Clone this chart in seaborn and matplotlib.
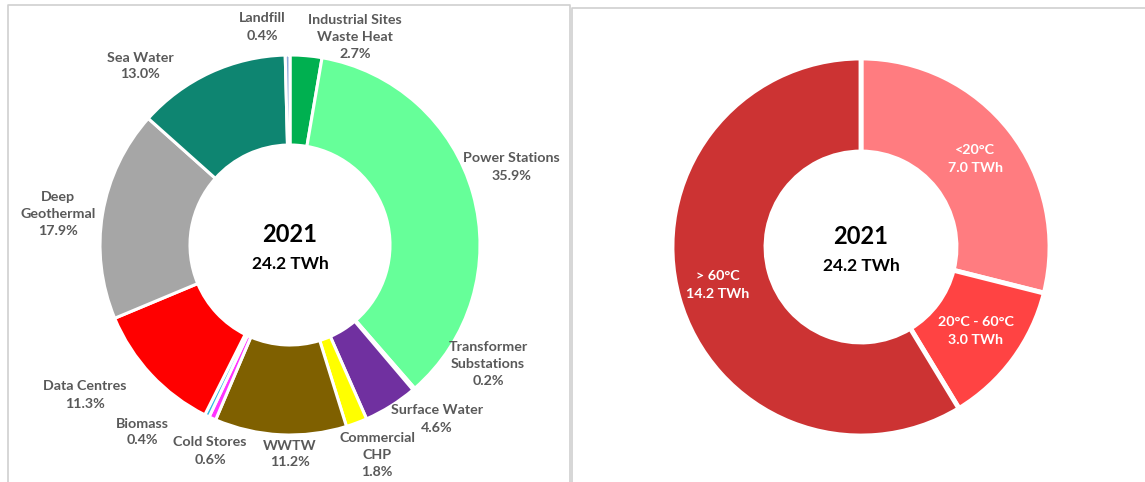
import matplotlib.pyplot as plt
import seaborn as sns

# Data
sources = ['Industrial Sites\nWaste Heat', 'Power Stations', 'Transformer\nSubstations',
           'Surface Water', 'Commercial\nCHP', 'WWTW', 'Cold Stores', 'Biomass',
           'Data Centres', 'Deep\nGeothermal', 'Sea Water', 'Landfill']
source_share = [2.7, 35.9, 0.2, 4.6, 1.8, 11.2, 0.6, 0.4, 11.3, 17.9, 13.0, 0.4]
source_colors = ['#00b050', '#66ff99', '#d9d9d9', '#7030a0', '#ffff00', '#7f6000',
                 '#ff33ff', '#33b5e5', '#ff0000', '#a6a6a6', '#0e8571', '#8faadc']

temp_bands = ['<20°C', '20°C - 60°C', '> 60°C']
temp_twh = [7.0, 3.0, 14.2]
temp_colors = ['#ff7c80', '#ff4343', '#cc3333']

year = '2021'
total = '24.2 TWh'

# label positions in pixels (x, y from top)
source_label_pos = [(355, 37), (511, 167), (488, 364), (437, 419), (377, 455), (290, 454),
                    (210, 451), (142, 432), (85, 395), (58, 214), (140, 66), (262, 27)]
temp_label_pos = [(975, 159), (976, 331), (718, 285)]

sns.set_theme(style="white")
plt.rcParams['font.family'] = ['Lato', 'DejaVu Sans']

W, H = 1145, 482
fig = plt.figure(figsize=(W / 100, H / 100), dpi=100)
ax = fig.add_axes([0, 0, 1, 1])
ax.set_xlim(0, W)
ax.set_ylim(0, H)
ax.set_aspect('equal')
ax.axis('off')

# left donut
ax.pie(source_share, colors=source_colors, startangle=90, counterclock=False,
       center=(290, H - 245), radius=190,
       wedgeprops=dict(width=90, edgecolor='white', linewidth=2.2))
for lab, val, (x, y) in zip(sources, source_share, source_label_pos):
    ax.text(x, H - y, f'{lab}\n{val:.1f}%', ha='center', va='center', fontsize=10.3,
            fontweight='bold', color='#595959', linespacing=1.5)

# right donut
ax.pie(temp_twh, colors=temp_colors, startangle=90, counterclock=False,
       center=(861, H - 247), radius=189,
       wedgeprops=dict(width=94, edgecolor='white', linewidth=3.5))
for lab, val, (x, y) in zip(temp_bands, temp_twh, temp_label_pos):
    ax.text(x, H - y, f'{lab}\n{val:.1f} TWh', ha='center', va='center', fontsize=10.3,
            fontweight='bold', color='white', linespacing=1.5)

# centre text
for cx, cy in [(290, 245), (861, 247)]:
    ax.text(cx, H - cy + 10, year, ha='center', va='center', fontsize=17,
            fontweight='bold', color='black')
    ax.text(cx, H - cy - 19, total, ha='center', va='center', fontsize=12.5,
            fontweight='bold', color='black')

# panel borders
line = dict(color='#d0d0d0', linewidth=1.2)
ax.plot([8, 8, 570, 570], [0, H - 5, H - 5, 0], **line)
ax.plot([572, 572, W], [0, H - 8, H - 8], **line)

ax.set_xlim(0, W)
ax.set_ylim(0, H)
fig.savefig('out.png', dpi=100, facecolor='white')
